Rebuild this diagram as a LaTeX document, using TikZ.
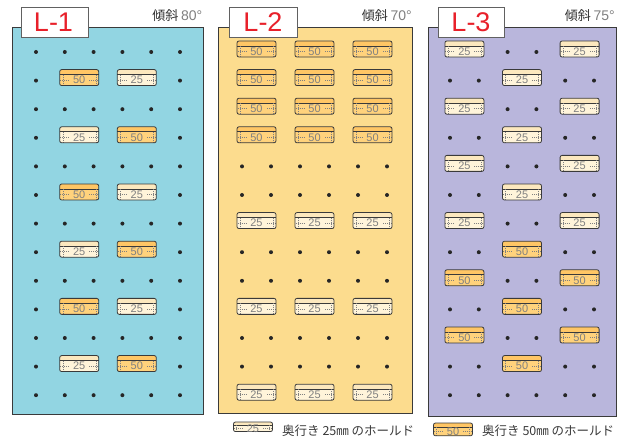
\documentclass[tikz,border=0pt]{standalone}
\usepackage{fontspec}
\setmainfont{Liberation Sans}
\newfontfamily\jp{Noto Sans CJK JP}
\definecolor{panelA}{HTML}{92D5E2}
\definecolor{panelB}{HTML}{FCDC8E}
\definecolor{panelC}{HTML}{B9B6DC}
\definecolor{edge}{HTML}{3A3A3A}
\definecolor{labred}{HTML}{E8202A}
\definecolor{hbodyA}{HTML}{FFF4DA}
\definecolor{htopA}{HTML}{FCE8BE}
\definecolor{hbodyB}{HTML}{FFD27C}
\definecolor{htopB}{HTML}{FFC665}
\definecolor{numgray}{HTML}{808080}
\tikzset{
  panel/.style={draw=edge, line width=1pt},
  labbox/.style={draw=edge!80, fill=white, line width=0.8pt},
  labtext/.style={text=labred, font=\fontsize{27}{27}\selectfont, anchor=base, inner sep=0pt},
  angle/.style={anchor=base east, inner sep=0pt},
  holdline/.style={draw=edge, line width=0.8pt},
  tick/.style={draw=numgray, line width=0.4pt, dash pattern=on 1pt off 1pt},
  holdnum/.style={text=numgray, font=\fontsize{11}{11}\selectfont, inner sep=0pt},
  legtext/.style={text=edge, font=\jp\fontsize{12.5}{12.5}\selectfont, anchor=west, inner sep=0pt},
  dot/.style={fill=black!85}
}
% #1 yscale, #2 x, #3 y, #4 type A(25)/B(50), #5 number
\newcommand\hold[5][1]{%
\begin{scope}[shift={(#2,#3)}]
 \begin{scope}[yscale=#1]
  \begin{scope}
   \clip[rounded corners=2] (-19.5,-11) rectangle (19.5,5);
   \fill[hbody#4] (-19.5,-11) rectangle (19.5,5);
   \fill[htop#4] (-19.5,-11) rectangle (19.5,-6);
  \end{scope}
  \draw[holdline] (-19.5,-6) -- (19.5,-6);
  \draw[tick] (-16.5,-6) -- (-16.5,5) (16.5,-6) -- (16.5,5);
  \draw[tick] (-19,-0.5) -- (-9,-0.5) (19,-0.5) -- (9,-0.5);
  \draw[holdline, rounded corners=2] (-19.5,-11) rectangle (19.5,5);
 \end{scope}
 \node[holdnum] at (0,{-0.5*#1}) {#5};
\end{scope}}
\newcommand\pdot[2]{\fill[dot] (#1,#2) circle (2);}
\newcommand\angletext[1]{{\jp\fontsize{13}{13}\selectfont\color{edge!90!black}傾斜} {\fontsize{14}{14}\selectfont\color{numgray}#1°}}
\begin{document}
\begin{tikzpicture}[x=1pt,y=-1pt]
\useasboundingbox (0,0) rectangle (630,443);
\fill[white] (0,0) rectangle (630,443);

% ---------- L-1 ----------
\draw[panel, fill=panelA] (12,28) rectangle (203,415);
\foreach \r in {0,2,...,12}{\foreach \c in {0,...,5}{\pdot{36+\c*28.8}{52+\r*28.6}}}
\foreach \r in {1,3,...,11}{\pdot{36}{52+\r*28.6}\pdot{180}{52+\r*28.6}}
\foreach \r in {1,5,9}{\hold{79.2}{52+\r*28.6}{B}{50}\hold{136.8}{52+\r*28.6}{A}{25}}
\foreach \r in {3,7,11}{\hold{79.2}{52+\r*28.6}{A}{25}\hold{136.8}{52+\r*28.6}{B}{50}}
\draw[labbox] (21,7) rectangle (88,37);
\node[labtext] (l1) at (53.5,32) {L-1};
\node[angle] (a1) at (202.5,21) {\angletext{80}};

% ---------- L-2 ----------
\draw[panel, fill=panelB] (218,28) rectangle (412,414);
\foreach \r in {4,5,7,8,10,11}{\foreach \c in {0,...,5}{\pdot{242+\c*29}{52+\r*28.6}}}
\foreach \r in {0,...,3}{\foreach \x in {256.5,314.5,372.5}{\hold{\x}{52+\r*28.6}{B}{50}}}
\foreach \r in {6,9,12}{\foreach \x in {256.5,314.5,372.5}{\hold{\x}{52+\r*28.6}{A}{25}}}
\draw[labbox] (229,7) rectangle (297,37);
\node[labtext] (l2) at (263,32) {L-2};
\node[angle] (a2) at (412,21) {\angletext{70}};

% ---------- L-3 ----------
\draw[panel, fill=panelC] (428,28) rectangle (616,417);
\foreach \c in {0,...,5}{\pdot{450+\c*28.8}{52+12*28.6}}
\foreach \r in {0,2,4,6,8,10}{\pdot{507.6}{52+\r*28.6}\pdot{536.4}{52+\r*28.6}}
\foreach \r in {1,3,5,7,9,11}{\pdot{450}{52+\r*28.6}\pdot{478.8}{52+\r*28.6}\pdot{565.2}{52+\r*28.6}\pdot{594}{52+\r*28.6}}
\foreach \r in {0,2,4,6}{\hold{464.4}{52+\r*28.6}{A}{25}\hold{579.6}{52+\r*28.6}{A}{25}}
\foreach \r in {1,3,5}{\hold{522}{52+\r*28.6}{A}{25}}
\foreach \r in {7,9,11}{\hold{522}{52+\r*28.6}{B}{50}}
\foreach \r in {8,10}{\hold{464.4}{52+\r*28.6}{B}{50}\hold{579.6}{52+\r*28.6}{B}{50}}
\draw[labbox] (438,7) rectangle (504,37);
\node[labtext] (l3) at (471,32) {L-3};
\node[angle] (a3) at (615,21) {\angletext{75}};

% ---------- legend ----------
\hold[0.6]{253}{428.6}{A}{25}
\node[legtext] (t25) at (282,431) {奥行き 25㎜ のホールド};
\hold[0.8]{453}{431.8}{B}{50}
\node[legtext] (t50) at (482,431) {奥行き 50㎜ のホールド};
\end{tikzpicture}
\end{document}
